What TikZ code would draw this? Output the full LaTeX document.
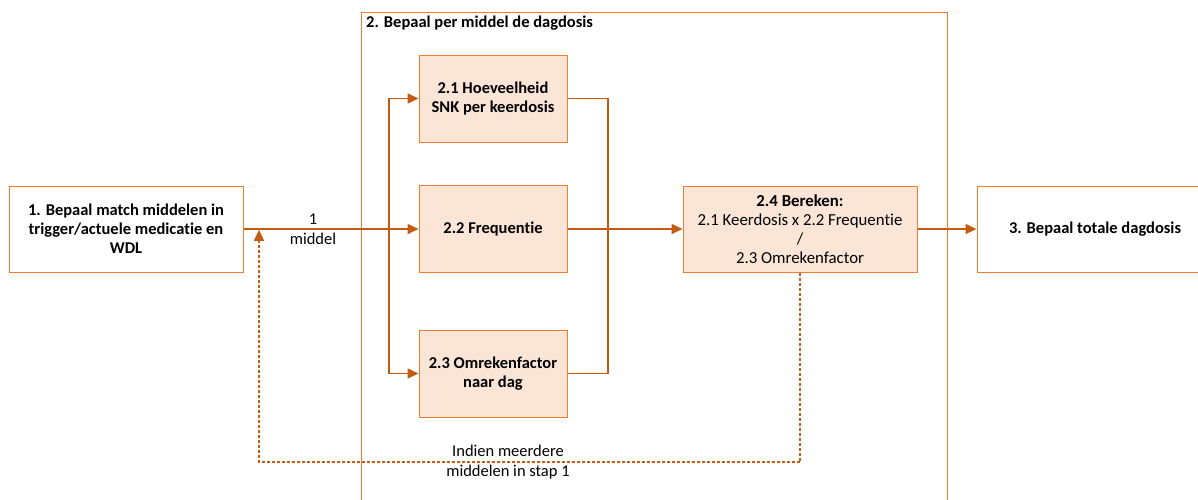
\documentclass[tikz,border=0pt]{standalone}
\usepackage{fontspec}
\setmainfont{Carlito}[Ligatures={NoCommon}]
\usetikzlibrary{arrows.meta,positioning}
\definecolor{boxline}{HTML}{ED7D31}
\definecolor{boxfill}{HTML}{FBE5D6}
\definecolor{conn}{HTML}{C55A11}
\tikzset{
  plainbox/.style={draw=boxline,line width=1pt,fill=white,minimum width=234pt,minimum height=86pt,align=center,font=\bfseries\fontsize{16.5}{19}\selectfont,inner sep=0pt},
  subbox/.style={draw=boxline,line width=1pt,fill=boxfill,minimum width=148pt,minimum height=87pt,align=center,font=\bfseries\fontsize{16.5}{19}\selectfont,inner sep=0pt},
  conline/.style={draw=conn,line width=1.6pt},
  arr/.style={conline,-{Triangle[length=11pt,width=10pt]}},
  dashline/.style={draw=conn,line width=1.4pt,dash pattern=on 3pt off 2pt},
  lbl/.style={font=\fontsize{16.5}{20}\selectfont,align=center,inner sep=0pt}
}
\begin{document}
\begin{tikzpicture}[x=1pt,y=-1pt]
\useasboundingbox (0,0) rectangle (1198,499);
\clip (0,0) rectangle (1198,499);
% frame
\draw[boxline,line width=1pt] (361,520) -- (361,12) -- (947,12) -- (947,520);
\node[anchor=north west,inner sep=0pt,font=\bfseries\fontsize{16.5}{19}\selectfont] (ftitle) at (366,16) {2. Bepaal per middel de dagdosis};
% boxes
\node[plainbox] (b1) at (126,229) {1. Bepaal match middelen in\\trigger/actuele medicatie en\\WDL};
\node[subbox] (b21) at (493,98.5) {2.1 Hoeveelheid\\SNK per keerdosis};
\node[subbox] (b22) at (493,229) {2.2 Frequentie};
\node[subbox] (b23) at (493,373.5) {2.3 Omrekenfactor\\naar dag};
\node[subbox,minimum width=234pt,minimum height=86pt,font=\fontsize{16.8}{19}\selectfont] (b24) at (800,229) {\textbf{2.4 Bereken:}\\2.1 Keerdosis x 2.2 Frequentie\\/\\2.3 Omrekenfactor};
\node[plainbox,minimum width=236pt] (b3) at (1095,229) {3. Bepaal totale dagdosis};
% coordinates
\coordinate (split) at (389,229);
\coordinate (join) at (608,229);
% connectors
\draw[arr] (b1.east) -- (b22.west);
\draw[arr] (split) |- (b21.west);
\draw[arr] (split) |- (b23.west);
\draw[conline] (b21.east) -| (join);
\draw[conline] (b23.east) -| (join);
\draw[arr] (b22.east) -- (b24.west);
\draw[arr] (b24.east) -- (b3.west);
\coordinate (dr) at (800,462);
\coordinate (dl) at (259,462);
\coordinate (dt) at (259,229.8);
\draw[dashline,-{Triangle[length=11pt,width=10pt]}] (b24.south) -- (dr) -- (dl) -- (dt);
% labels
\node[lbl] (l1) at (313,229) {1\\middel};
\node[lbl] (l2) at (508,462) {Indien meerdere\\middelen in stap 1};
\end{tikzpicture}
\end{document}
